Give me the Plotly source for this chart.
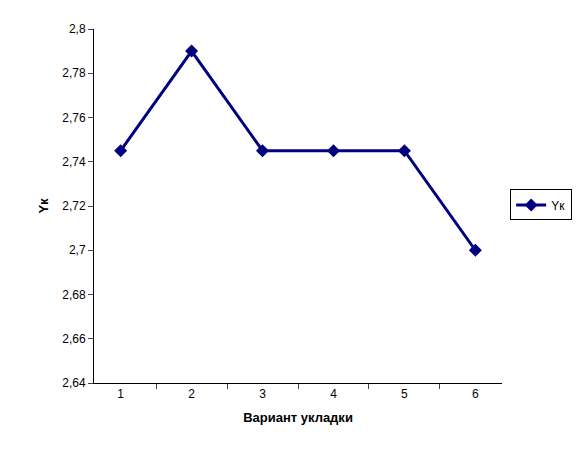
import plotly.graph_objects as go

categories = ["1", "2", "3", "4", "5", "6"]
yk = [2.745, 2.79, 2.745, 2.745, 2.745, 2.70]
ytick_vals = [2.64, 2.66, 2.68, 2.70, 2.72, 2.74, 2.76, 2.78, 2.80]
ytick_text = ["2,64", "2,66", "2,68", "2,7", "2,72", "2,74", "2,76", "2,78", "2,8"]

fig = go.Figure(go.Scatter(
    x=categories, y=yk, mode="lines+markers", name="Yк",
    line=dict(color="#000080", width=3),
    marker=dict(symbol="diamond", size=10, color="#000080"),
))
fig.update_layout(
    width=580, height=461, paper_bgcolor="white", plot_bgcolor="white",
    margin=dict(l=86, r=86, t=21, b=86),
    font=dict(family="Liberation Sans, Arial", size=12, color="black"),
    showlegend=True,
    legend=dict(x=1.02, y=0.503, xanchor="left", yanchor="middle",
                bordercolor="black", borderwidth=1, font=dict(size=12),
                itemwidth=30, tracegroupgap=0),
)
fig.update_xaxes(type="category", tickson="boundaries", ticks="outside", ticklen=5,
                 showline=True, linecolor="black", linewidth=1, showgrid=False,
                 title=dict(text="<b>Вариант укладки</b>", font=dict(size=13), standoff=12))
fig.update_yaxes(range=[2.64, 2.80], tickvals=ytick_vals, ticktext=ytick_text,
                 ticks="outside", ticklen=5, showline=True, linecolor="black", linewidth=1,
                 showgrid=False, zeroline=False,
                 title=dict(text="<b>Yк</b>", font=dict(size=13), standoff=10))
fig.write_html("out.html")
